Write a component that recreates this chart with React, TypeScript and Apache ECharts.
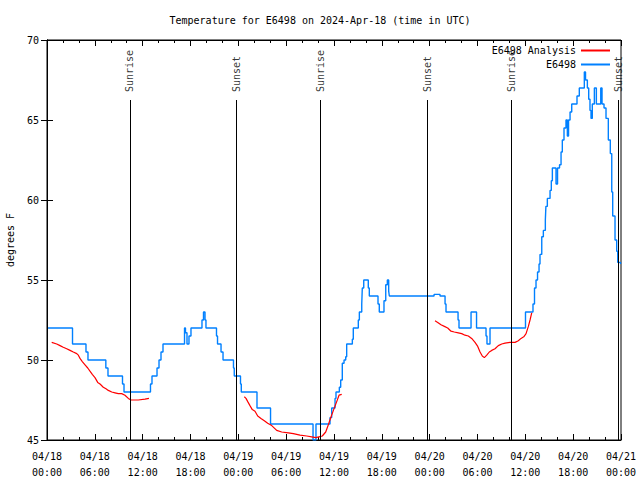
import React, { useEffect, useRef } from "react";
import * as echarts from "echarts";

// Hours since 04/18 00:00 UTC
const blueHours = [
  0.13, 3.2, 4.89, 5.14, 7.38, 7.65, 9.47, 9.66, 12.98, 13.17, 13.8, 14.05, 14.3, 14.55,
  17.25, 17.37, 17.56, 17.81, 18.06, 19.44, 19.63, 19.82, 19.94, 21.26, 21.39, 21.83, 22.08,
  23.39, 23.49, 24.27, 24.37, 26.34, 28.04, 33.37, 33.74, 35.5, 35.71, 36.13, 36.25, 36.67,
  36.84, 37.04, 37.26, 37.47, 37.59, 38.3, 38.42, 39.05, 39.18, 39.48, 39.55, 39.73, 40.3,
  40.43, 41.52, 41.68, 42.27, 42.49, 42.69, 42.86, 42.94, 48.55, 49.3, 49.93, 50.05, 51.56,
  51.68, 53.19, 53.88, 55.07, 55.19, 55.57, 60.02, 60.96, 61.15, 61.34, 61.53, 61.72, 61.84,
  62.06, 62.26, 62.51, 62.58, 62.76, 63.1, 63.26, 63.39, 63.85, 64.04, 64.29, 64.48, 64.64,
  64.85, 65.1, 65.27, 65.42, 65.61, 65.82, 66.48, 66.77, 67.4, 67.55, 67.78, 67.95, 68.11,
  68.24, 68.4, 68.66, 68.91, 69.46, 69.62, 69.87, 70.12, 70.41, 70.66, 70.84, 70.96, 71.25,
  71.46, 71.59, 71.94, 72.0,
];
const blueTemps = [
  52, 51, 50.5, 50, 49.5, 49, 48.5, 48, 48.5, 49, 49.5, 50, 50.5, 51,
  52, 51.7, 51, 51.5, 52, 52.5, 53, 52.5, 52, 51.5, 51, 50.5, 50,
  49.5, 49, 48.5, 48, 47, 46, 45, 46, 46.4, 47, 47.6, 48, 48.3,
  48.75, 49.8, 50, 50.2, 51, 51.3, 52, 52.5, 53, 53.5, 54.5, 55, 54.5,
  54, 53.5, 53, 53.7, 54.7, 55, 54.3, 54, 54.1, 54, 53.5, 53, 52.5,
  52, 53, 52, 51.5, 51, 52, 53, 53.5, 54.5, 55, 55.5, 56, 56.6,
  57.7, 58.1, 58.75, 59.6, 60.1, 60.6, 61.2, 62, 61, 62, 62.2, 63, 63.75,
  64.5, 65, 64, 65, 65.5, 66, 66.5, 67, 68, 67.5, 67, 66.3, 65.6,
  65.1, 66, 67, 66, 67, 66, 65.75, 65.1, 63.75, 62.9, 60.5, 59, 57.5,
  56.8, 56.1, 56, 56,
];

const redHours1 = [
  0.59, 1.22, 1.63, 2.04, 2.47, 2.89, 3.3, 3.73, 3.93, 4.14, 4.43, 4.77, 5.11, 5.39, 5.68,
  6.02, 6.36, 6.65, 7.06, 7.4, 7.69, 8.12, 8.53, 8.94, 9.37, 9.78, 10.2, 10.54, 11.45, 12.29, 12.79,
];
const redTemps1 = [
  51.1, 51.0, 50.9, 50.8, 50.7, 50.6, 50.5, 50.4, 50.3, 50.1, 49.9, 49.7, 49.5, 49.3, 49.1,
  48.9, 48.6, 48.5, 48.3, 48.2, 48.1, 48.0, 47.95, 47.9, 47.9, 47.8, 47.6, 47.5, 47.5, 47.55, 47.6,
];
const redHours2 = [
  24.75, 24.96, 25.18, 25.46, 25.75, 26.09, 26.43, 26.84, 27.26, 27.68, 28.19, 28.81, 29.44,
  30.27, 30.9, 31.74, 32.58, 33.2, 33.71, 34.12, 34.53, 34.96, 35.29, 35.63, 35.96, 36.34, 36.63, 36.97,
];
const redTemps2 = [
  47.7, 47.6, 47.4, 47.15, 46.9, 46.8, 46.5, 46.35, 46.2, 46.05, 45.9, 45.6, 45.5,
  45.45, 45.4, 45.3, 45.25, 45.2, 45.15, 45.2, 45.25, 45.5, 45.95, 46.45, 46.9, 47.4, 47.8, 47.85,
];
const redHours3 = [
  48.67, 49.01, 49.42, 49.84, 50.26, 50.68, 51.09, 51.59, 52.02, 52.43, 52.85, 53.27, 53.69,
  54.03, 54.32, 54.6, 54.86, 55.16, 55.48, 55.78, 56.2, 56.61, 57.04, 57.45, 58.08, 58.71,
  59.12, 59.46, 59.8, 60.09, 60.38, 60.59, 60.8,
];
const redTemps3 = [
  52.45, 52.35, 52.2, 52.1, 52.0, 51.8, 51.75, 51.7, 51.65, 51.55, 51.5, 51.35, 51.1,
  50.85, 50.5, 50.25, 50.15, 50.3, 50.5, 50.6, 50.7, 50.9, 51.0, 51.05, 51.1, 51.1,
  51.2, 51.35, 51.45, 51.65, 52.1, 52.5, 52.95,
];

const sunHours = [10.4, 23.71, 34.25, 47.75, 58.29, 71.68];
const sunLabels = ["Sunrise", "Sunset", "Sunrise", "Sunset", "Sunrise", "Sunset"];
const sunLineTop = 66.25;
const sunLabelBase = 66.75;

const xTickLabels = [
  "04/18\n00:00", "04/18\n06:00", "04/18\n12:00", "04/18\n18:00",
  "04/19\n00:00", "04/19\n06:00", "04/19\n12:00", "04/19\n18:00",
  "04/20\n00:00", "04/20\n06:00", "04/20\n12:00", "04/20\n18:00",
  "04/21\n00:00",
];

const FONT = "DejaVu Sans Mono";
const BLUE = "#0080ff";
const RED = "#ff0000";

const zip = (xs: number[], ys: number[]) => xs.map((x, i) => [x, ys[i]]);

export default function App() {
  const ref = useRef<HTMLDivElement>(null);
  useEffect(() => {
    if (!ref.current) return;
    document.body.style.margin = "0";
    const chart = echarts.init(ref.current, null, { renderer: "svg" });
    const baseX = {
      type: "value" as const,
      min: 0,
      max: 72,
      interval: 6,
      splitLine: { show: false },
      axisLine: { show: true, lineStyle: { color: "#000", width: 1 } },
      axisTick: { show: true, inside: true, length: 6, lineStyle: { color: "#000" } },
      minorTick: { show: true, splitNumber: 3, length: 3, lineStyle: { color: "#000" } },
    };
    const baseY = {
      type: "value" as const,
      min: 45,
      max: 70,
      interval: 5,
      splitLine: { show: false },
      axisLine: { show: true, lineStyle: { color: "#000", width: 1 } },
      axisTick: { show: true, inside: true, length: 6, lineStyle: { color: "#000" } },
    };
    const redSeries = [
      zip(redHours1, redTemps1),
      zip(redHours2, redTemps2),
      zip(redHours3, redTemps3),
    ].map((d) => ({
      name: "E6498 Analysis",
      type: "line",
      data: d,
      showSymbol: false,
      lineStyle: { color: RED, width: 1.2 },
      itemStyle: { color: RED },
      z: 3,
    }));
    chart.setOption({
      animation: false,
      textStyle: { fontFamily: FONT, color: "#000" },
      title: {
        text: "Temperature for E6498 on 2024-Apr-18 (time in UTC)",
        left: "center",
        top: 15,
        padding: 0,
        textStyle: { fontFamily: FONT, fontSize: 10, fontWeight: "normal", color: "#000" },
      },
      grid: {
        left: 47,
        right: 19,
        top: 40,
        bottom: 40,
        show: true,
        borderColor: "#000",
        borderWidth: 1,
        containLabel: false,
        outerBoundsMode: "none",
      },
      legend: {
        orient: "vertical",
        align: "right",
        right: 30,
        top: 44,
        itemWidth: 29,
        itemHeight: 2,
        itemGap: 1,
        padding: 0,
        textStyle: { fontFamily: FONT, fontSize: 10, color: "#000", lineHeight: 13 },
        data: [
          { name: "E6498 Analysis", icon: "rect" },
          { name: "E6498", icon: "rect" },
        ],
      },
      xAxis: [
        {
          ...baseX,
          position: "bottom",
          axisLabel: {
            show: true,
            margin: 8,
            fontFamily: FONT,
            fontSize: 10,
            lineHeight: 16,
            color: "#000",
            showMinLabel: true,
            showMaxLabel: true,
            formatter: (v: number) => xTickLabels[Math.round(v / 6)] ?? "",
          },
        },
        { ...baseX, position: "top", axisLabel: { show: false } },
      ],
      yAxis: [
        {
          ...baseY,
          position: "left",
          name: "degrees F",
          nameLocation: "middle",
          nameGap: 32,
          nameRotate: 90,
          nameTextStyle: { fontFamily: FONT, fontSize: 10, color: "#000" },
          axisLabel: { show: true, margin: 8, fontFamily: FONT, fontSize: 10, color: "#000" },
        },
        { ...baseY, position: "right", axisLabel: { show: false } },
      ],
      series: [
        {
          name: "sun",
          type: "scatter",
          data: sunHours.map((h) => [h, sunLabelBase]),
          symbolSize: 1,
          itemStyle: { color: "rgba(0,0,0,0)" },
          silent: true,
          z: 1,
          label: {
            show: true,
            position: "inside",
            rotate: 90,
            align: "left",
            verticalAlign: "middle",
            fontFamily: FONT,
            fontSize: 10,
            color: "#000",
            formatter: (p: any) => sunLabels[p.dataIndex],
          },
          markLine: {
            silent: true,
            symbol: ["none", "none"],
            animation: false,
            label: { show: false },
            lineStyle: { color: "#000", width: 1, type: "solid" },
            data: sunHours.map((h) => [{ coord: [h, 45] }, { coord: [h, sunLineTop] }]),
          },
        },
        ...redSeries,
        {
          name: "E6498",
          type: "line",
          step: "end",
          data: zip(blueHours, blueTemps),
          showSymbol: false,
          lineStyle: { color: BLUE, width: 1.4 },
          itemStyle: { color: BLUE },
          z: 2,
        },
      ],
    });
    return () => chart.dispose();
  }, []);
  return <div ref={ref} style={{ width: 640, height: 480 }} />;
}
